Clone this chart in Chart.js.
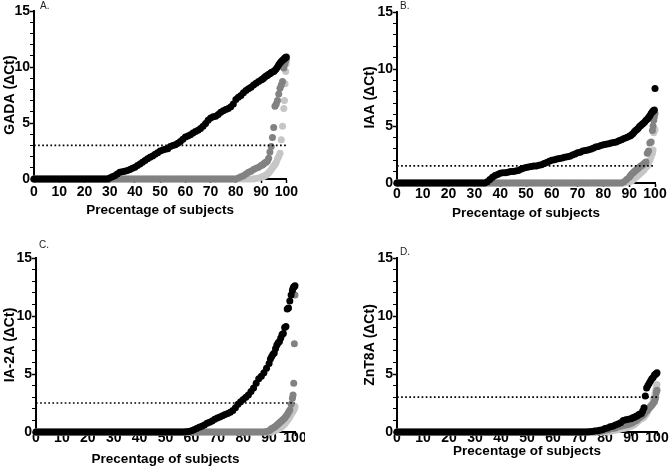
<!DOCTYPE html>
<html>
<head>
<meta charset="utf-8">
<script src="https://cdn.jsdelivr.net/npm/chart.js@4/dist/chart.umd.min.js"></script>
<style>
  body { margin: 0; background: #fff; }
  #wrap { position: relative; width: 669px; height: 469px; }
  .panel { position: absolute; }
</style>
</head>
<body>
<div id="wrap"></div>
<script>
// percentile of subjects (x values shared by every series)
const pct = [
  0,1,2,3,4,5,6,7,8,9,
  10,11,12,13,14,15,16,17,18,19,
  20,21,22,23,24,25,26,27,28,29,
  30,31,32,33,34,35,36,37,38,39,
  40,41,42,43,44,45,46,47,48,49,
  50,51,52,53,54,55,56,57,58,59,
  60,61,62,63,64,65,66,67,68,69,
  70,71,72,73,74,75,76,77,78,79,
  80,81,82,83,84,85,86,87,88,89,
  90,90.5,91,91.5,92,92.5,93,93.5,94,94.5,
  95,95.5,96,96.5,97,97.5,98,98.5,99,99.25,
  99.5,99.75,100
];

// A. GADA
const gadaBlack = [
  0,0,0,0,0,0,0,0,0,0,
  0,0,0,0,0,0,0,0,0,0,
  0,0,0,0,0,0,0,0,0,0,
  0.1,0.2,0.3,0.45,0.6,0.65,0.7,0.75,0.85,0.95,
  1.05,1.2,1.35,1.5,1.65,1.8,1.95,2.05,2.2,2.35,
  2.5,2.6,2.65,2.7,2.9,3.0,3.05,3.2,3.35,3.55,
  3.75,3.85,3.95,4.1,4.25,4.35,4.5,4.7,4.95,5.25,
  5.45,5.55,5.6,5.75,5.95,6.1,6.2,6.3,6.45,6.7,
  7.1,7.3,7.45,7.7,7.9,8.05,8.2,8.4,8.55,8.7,
  8.85,8.9,9.0,9.1,9.2,9.25,9.35,9.4,9.5,9.55,
  9.6,9.7,9.85,10.0,10.2,10.35,10.5,10.6,10.7,10.75,
  10.8,10.85,10.9
];
const gadaDark = [
  0,0,0,0,0,0,0,0,0,0,
  0,0,0,0,0,0,0,0,0,0,
  0,0,0,0,0,0,0,0,0,0,
  0,0,0,0,0,0,0,0,0,0,
  0,0,0,0,0,0,0,0,0,0,
  0,0,0,0,0,0,0,0,0,0,
  0,0,0,0,0,0,0,0,0,0,
  0,0,0,0,0,0,0,0,0,0,
  0,0.1,0.2,0.3,0.45,0.6,0.7,0.85,0.95,1.05,
  1.2,1.25,1.35,1.45,1.5,1.6,1.85,2.4,2.9,3.7,
  4.6,6.5,6.7,7.0,7.6,8.1,8.4,8.7,9.9,10.2,
  10.4,10.6,10.7
];
const gadaLight = [
  0,0,0,0,0,0,0,0,0,0,
  0,0,0,0,0,0,0,0,0,0,
  0,0,0,0,0,0,0,0,0,0,
  0,0,0,0,0,0,0,0,0,0,
  0,0,0,0,0,0,0,0,0,0,
  0,0,0,0,0,0,0,0,0,0,
  0,0,0,0,0,0,0,0,0,0,
  0,0,0,0,0,0,0,0,0,0,
  0,0,0,0,0,0,0,0,0.05,0.1,
  0.15,0.2,0.25,0.3,0.35,0.45,0.55,0.7,0.85,1.0,
  1.15,1.3,1.5,1.8,2.0,2.3,3.5,4.7,6.3,7.0,
  8.5,9.6,10.3
];

// B. IAA
const iaaBlack = [
  0,0,0,0,0,0,0,0,0,0,
  0,0,0,0,0,0,0,0,0,0,
  0,0,0,0,0,0,0,0,0,0,
  0,0,0,0,0,0.1,0.3,0.5,0.65,0.75,
  0.85,0.9,0.9,0.95,1.0,1.0,1.05,1.1,1.2,1.3,
  1.35,1.4,1.45,1.5,1.5,1.55,1.6,1.7,1.8,1.9,
  2.0,2.05,2.1,2.15,2.2,2.25,2.3,2.35,2.45,2.55,
  2.65,2.7,2.8,2.85,2.9,2.95,3.05,3.15,3.2,3.3,
  3.35,3.4,3.45,3.5,3.55,3.6,3.7,3.8,3.9,4.0,
  4.1,4.15,4.25,4.35,4.5,4.6,4.7,4.8,4.95,5.05,
  5.15,5.25,5.35,5.5,5.6,5.75,5.9,6.1,6.25,6.3,
  6.35,6.4,8.3
];
const iaaDark = [
  0,0,0,0,0,0,0,0,0,0,
  0,0,0,0,0,0,0,0,0,0,
  0,0,0,0,0,0,0,0,0,0,
  0,0,0,0,0,0,0,0,0,0,
  0,0,0,0,0,0,0,0,0,0,
  0,0,0,0,0,0,0,0,0,0,
  0,0,0,0,0,0,0,0,0,0,
  0,0,0,0,0,0,0,0,0,0,
  0,0,0,0,0,0,0,0,0.1,0.3,
  0.5,0.65,0.8,0.9,1.0,1.1,1.2,1.3,1.4,1.5,
  1.55,1.65,1.75,1.85,2.6,2.8,3.5,3.6,4.6,5.0,
  5.5,5.8,6.1
];
const iaaLight = [
  0,0,0,0,0,0,0,0,0,0,
  0,0,0,0,0,0,0,0,0,0,
  0,0,0,0,0,0,0,0,0,0,
  0,0,0,0,0,0,0,0,0,0,
  0,0,0,0,0,0,0,0,0,0,
  0,0,0,0,0,0,0,0,0,0,
  0,0,0,0,0,0,0,0,0,0,
  0,0,0,0,0,0,0,0,0,0,
  0,0,0,0,0,0,0,0,0,0.05,
  0.1,0.15,0.2,0.3,0.4,0.5,0.6,0.7,0.8,0.9,
  1.0,1.1,1.25,1.4,1.5,1.7,2.0,2.3,2.6,2.9,
  4.4,4.6,4.7
];

// C. IA-2A
const ia2aBlack = [
  0,0,0,0,0,0,0,0,0,0,
  0,0,0,0,0,0,0,0,0,0,
  0,0,0,0,0,0,0,0,0,0,
  0,0,0,0,0,0,0,0,0,0,
  0,0,0,0,0,0,0,0,0,0,
  0,0,0,0,0,0,0,0,0.02,0.05,
  0.1,0.2,0.3,0.4,0.5,0.6,0.75,0.85,0.95,1.1,
  1.2,1.3,1.4,1.5,1.6,1.7,1.85,2.1,2.4,2.6,
  2.8,3.0,3.2,3.5,3.8,4.2,4.6,4.8,5.1,5.5,
  5.9,6.3,6.5,6.7,6.8,7.2,7.5,7.7,7.8,8.1,
  8.4,8.5,9.0,9.1,10.6,10.7,11.3,11.8,12.2,12.4,
  12.5,12.55,12.6
];
const ia2aDark = [
  0,0,0,0,0,0,0,0,0,0,
  0,0,0,0,0,0,0,0,0,0,
  0,0,0,0,0,0,0,0,0,0,
  0,0,0,0,0,0,0,0,0,0,
  0,0,0,0,0,0,0,0,0,0,
  0,0,0,0,0,0,0,0,0,0,
  0,0,0,0,0,0,0,0,0,0,
  0,0,0,0,0,0,0,0,0,0,
  0,0,0,0,0,0,0,0,0,0.05,
  0.1,0.2,0.3,0.35,0.4,0.5,0.6,0.7,0.8,0.9,
  1.0,1.1,1.2,1.35,1.5,1.7,1.9,2.4,2.9,3.2,
  4.2,7.6,11.8
];
const ia2aLight = [
  0,0,0,0,0,0,0,0,0,0,
  0,0,0,0,0,0,0,0,0,0,
  0,0,0,0,0,0,0,0,0,0,
  0,0,0,0,0,0,0,0,0,0,
  0,0,0,0,0,0,0,0,0,0,
  0,0,0,0,0,0,0,0,0,0,
  0,0,0,0,0,0,0,0,0,0,
  0,0,0,0,0,0,0,0,0,0,
  0,0,0,0,0,0,0,0,0,0,
  0,0,0,0.05,0.1,0.15,0.2,0.25,0.3,0.4,
  0.5,0.6,0.7,0.85,1.0,1.15,1.3,1.5,1.7,1.8,
  1.9,2.0,2.2
];

// D. ZnT8A
const znt8Black = [
  0,0,0,0,0,0,0,0,0,0,
  0,0,0,0,0,0,0,0,0,0,
  0,0,0,0,0,0,0,0,0,0,
  0,0,0,0,0,0,0,0,0,0,
  0,0,0,0,0,0,0,0,0,0,
  0,0,0,0,0,0,0,0,0,0,
  0,0,0,0,0,0,0,0,0,0,
  0,0,0,0,0.02,0.05,0.08,0.1,0.15,0.2,
  0.3,0.35,0.45,0.5,0.6,0.7,0.8,1.0,1.05,1.1,
  1.15,1.2,1.25,1.3,1.35,1.4,1.5,1.55,1.6,1.8,
  2.1,3.1,3.8,4.0,4.2,4.4,4.6,4.7,4.9,4.95,
  5.0,5.05,5.1
];
const znt8Dark = [
  0,0,0,0,0,0,0,0,0,0,
  0,0,0,0,0,0,0,0,0,0,
  0,0,0,0,0,0,0,0,0,0,
  0,0,0,0,0,0,0,0,0,0,
  0,0,0,0,0,0,0,0,0,0,
  0,0,0,0,0,0,0,0,0,0,
  0,0,0,0,0,0,0,0,0,0,
  0,0,0,0,0,0,0,0.02,0.05,0.1,
  0.15,0.2,0.25,0.3,0.35,0.45,0.5,0.55,0.6,0.65,
  0.75,0.8,0.9,0.95,1.0,1.1,1.2,1.3,1.35,1.45,
  1.55,1.7,1.8,1.95,2.1,2.2,2.3,2.45,2.6,2.8,
  3.0,3.4,3.6
];
const znt8Light = [
  0,0,0,0,0,0,0,0,0,0,
  0,0,0,0,0,0,0,0,0,0,
  0,0,0,0,0,0,0,0,0,0,
  0,0,0,0,0,0,0,0,0,0,
  0,0,0,0,0,0,0,0,0,0,
  0,0,0,0,0,0,0,0,0,0,
  0,0,0,0,0,0,0,0,0,0,
  0,0,0,0,0,0,0,0,0,0,
  0,0,0.05,0.1,0.15,0.2,0.25,0.3,0.35,0.4,
  0.5,0.55,0.6,0.7,0.8,0.9,1.0,1.1,1.15,1.2,
  1.3,1.45,1.6,1.8,2.0,2.2,2.4,2.8,3.0,3.3,
  3.6,3.9,4.1
];

const yTitles = ['GADA (ΔCt)', 'IAA (ΔCt)', 'IA-2A (ΔCt)', 'ZnT8A (ΔCt)'];
const letters = ['A.', 'B.', 'C.', 'D.'];
const cutoffs = [3, 1.5, 2.5, 3];
const xTitle = 'Precentage of subjects';
const xTicks = [0, 10, 20, 30, 40, 50, 60, 70, 80, 90, 100];

const series = [
  [gadaBlack, gadaDark, gadaLight],
  [iaaBlack, iaaDark, iaaLight],
  [ia2aBlack, ia2aDark, ia2aLight],
  [znt8Black, znt8Dark, znt8Light]
];
const colors = ['#000000', '#828282', '#c6c6c6'];

// layout of each panel on the page
const layout = [
  {left: 0,   top: 0,   w: 300, h: 235, pad: {left: 0, top: 11, right: 11, bottom: 0}, yW: 34, xH: 56, xTitlePad: 17, tickPad: 2,  lx: 6, ly: -5},
  {left: 360, top: 0,   w: 309, h: 235, pad: {left: 0, top: 12, right: 14, bottom: 0}, yW: 37, xH: 52, xTitlePad: 14, tickPad: 0,  lx: 3, ly: -6},
  {left: 0,   top: 235, w: 305, h: 234, pad: {left: 0, top: 23, right: 10, bottom: 0}, yW: 36, xH: 37, xTitlePad: 2,  tickPad: -5, lx: 3, ly: -13},
  {left: 360, top: 235, w: 309, h: 234, pad: {left: 0, top: 23, right: 12, bottom: 0}, yW: 37, xH: 37, xTitlePad: 10, tickPad: -5, lx: 3, ly: -6}
];

const panelLetter = {
  id: 'panelLetter',
  afterDraw(chart, args, opts) {
    const {ctx, chartArea} = chart;
    ctx.save();
    ctx.font = '10px "Liberation Sans", Arial, sans-serif';
    ctx.fillStyle = '#222';
    ctx.textBaseline = 'middle';
    ctx.fillText(opts.text, chartArea.left + opts.dx, chartArea.top + opts.dy);
    ctx.restore();
  }
};

const fam = '"Liberation Sans", Arial, sans-serif';
const wrap = document.getElementById('wrap');

layout.forEach((L, p) => {
  const div = document.createElement('div');
  div.className = 'panel';
  div.style.left = L.left + 'px';
  div.style.top = L.top + 'px';
  const cv = document.createElement('canvas');
  cv.width = L.w;
  cv.height = L.h;
  div.appendChild(cv);
  wrap.appendChild(div);

  const sets = series[p].map((ys, k) => ({
    data: ys.map((y, i) => ({x: pct[i], y: y})),
    backgroundColor: colors[k],
    borderWidth: 0,
    pointRadius: 3.5,
    pointHoverRadius: 3.5,
    clip: false,
    order: k + 1
  }));
  sets.push({
    data: [{x: 0, y: cutoffs[p]}, {x: 100, y: cutoffs[p]}],
    showLine: true,
    borderColor: '#000',
    borderWidth: 1.7,
    borderDash: [1.7, 2.4],
    pointRadius: 0,
    order: 0
  });

  new Chart(cv, {
    type: 'scatter',
    data: {datasets: sets},
    plugins: [panelLetter],
    options: {
      responsive: false,
      animation: false,
      devicePixelRatio: 1,
      layout: {padding: L.pad},
      plugins: {
        legend: {display: false},
        tooltip: {enabled: false},
        panelLetter: {text: letters[p], dx: L.lx, dy: L.ly}
      },
      scales: {
        x: {
          type: 'linear',
          min: 0, max: 100,
          afterFit: s => { s.height = L.xH; },
          afterBuildTicks: s => { s.ticks = xTicks.map(v => ({value: v})); },
          border: {color: '#000', width: 2},
          grid: {display: true, drawOnChartArea: false, tickLength: 4, tickColor: '#000', tickWidth: 1.5},
          ticks: {
            autoSkip: false, maxRotation: 0, padding: L.tickPad, color: '#000',
            font: {family: fam, weight: 'bold', size: 14, lineHeight: 1}
          },
          title: {
            display: true, text: xTitle, color: '#000',
            font: {family: fam, weight: 'bold', size: 13.5},
            padding: {top: 0, bottom: L.xTitlePad}
          }
        },
        y: {
          type: 'linear',
          min: 0, max: 15,
          afterFit: s => { s.width = L.yW; },
          border: {color: '#000', width: 2},
          grid: {
            display: true, drawOnChartArea: false, tickLength: 4, tickColor: '#000',
            tickWidth: c => (c.tick && c.tick.value % 5 === 0 ? 1.5 : 1)
          },
          ticks: {
            stepSize: 1, autoSkip: false, padding: 0, color: '#000',
            callback: v => (v % 5 === 0 ? v : ''),
            font: {family: fam, weight: 'bold', size: 14, lineHeight: 1}
          },
          title: {
            display: true, text: yTitles[p], color: '#000',
            font: {family: fam, weight: 'bold', size: 14},
            padding: {top: 1.6, bottom: 0}
          }
        }
      }
    }
  });
});
</script>
</body>
</html>
